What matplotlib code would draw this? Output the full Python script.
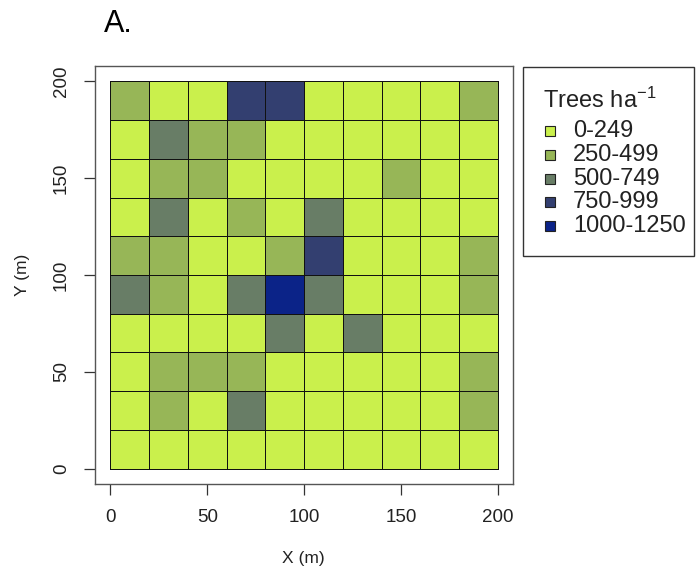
"""
Stem density map of the 200 x 200 m plot, 20 m subplots coloured by class.
"""

import matplotlib
import matplotlib.pyplot as plt
import numpy as np
from matplotlib.colors import BoundaryNorm, ListedColormap
from matplotlib.patches import Rectangle

matplotlib.rcParams["font.family"] = ["Liberation Sans", "DejaVu Sans"]
matplotlib.rcParams["mathtext.default"] = "regular"

# Density classes (trees per ha) and their fill colours
CLASS_LABELS = ["0-249", "250-499", "500-749", "750-999", "1000-1250"]
CLASS_COLORS = ["#CAF04C", "#97B657", "#687D66", "#333F70", "#0B2388"]

# Subplot class index, rows listed from north (y = 180-200) to south (y = 0-20)
SUBPLOT_CLASS = [
    [1, 0, 0, 3, 3, 0, 0, 0, 0, 1],
    [0, 2, 1, 1, 0, 0, 0, 0, 0, 0],
    [0, 1, 1, 0, 0, 0, 0, 1, 0, 0],
    [0, 2, 0, 1, 0, 2, 0, 0, 0, 0],
    [1, 1, 0, 0, 1, 3, 0, 0, 0, 1],
    [2, 1, 0, 2, 4, 2, 0, 0, 0, 1],
    [0, 0, 0, 0, 2, 0, 2, 0, 0, 0],
    [0, 1, 1, 1, 0, 0, 0, 0, 0, 1],
    [0, 1, 0, 2, 0, 0, 0, 0, 0, 1],
    [0, 0, 0, 0, 0, 0, 0, 0, 0, 0],
]

CELL_SIZE = 20  # m
AXIS_TICKS = [0, 50, 100, 150, 200]

grid = np.array(SUBPLOT_CLASS)[::-1]
edges = np.arange(grid.shape[1] + 1) * CELL_SIZE

fig = plt.figure(figsize=(6.97, 5.77), dpi=100)
ax = fig.add_axes([0.1363, 0.1612, 0.6, 0.7244])

cmap = ListedColormap(CLASS_COLORS)
norm = BoundaryNorm(np.arange(len(CLASS_COLORS) + 1) - 0.5, cmap.N)
ax.pcolormesh(edges, edges, grid, cmap=cmap, norm=norm,
              edgecolors="#111111", linewidth=0.65)

ax.set_xlim(-8, 208)
ax.set_ylim(-8, 208)
ax.set_xticks(AXIS_TICKS)
ax.set_yticks(AXIS_TICKS)
ax.tick_params(direction="out", length=8, width=0.9, color="#333333",
               labelsize=13.5, labelcolor="#222222", pad=10)
for lab in ax.get_yticklabels():
    lab.set_rotation(90)
    lab.set_va("center")
for sp in ax.spines.values():
    sp.set_color("#555555")
    sp.set_linewidth(1.0)

fig.text(303 / 697, 1 - 558 / 577, "X (m)", ha="center", va="center",
         fontsize=12.5, color="#222222")
fig.text(22 / 697, 1 - 275 / 577, "Y (m)", ha="center", va="center",
         fontsize=12.5, rotation=90, color="#222222")
fig.text(104 / 697, 1 - 32 / 577, "A.", ha="left", va="baseline",
         fontsize=22, color="black")

# Legend panel to the right of the map
W, H = 697, 577
fig.patches.append(Rectangle((523 / W, 1 - 256 / H), 171 / W, 189 / H,
                             transform=fig.transFigure, fill=False,
                             edgecolor="#333333", linewidth=1.0))
fig.text(543 / W, 1 - 108 / H, r"Trees ha$^{-1}$", ha="left", va="baseline",
         fontsize=17, color="#222222")
for i, (label, color) in enumerate(zip(CLASS_LABELS, CLASS_COLORS)):
    base = 137 + 23.8 * i
    fig.patches.append(Rectangle((545 / W, 1 - (base - 1) / H), 10 / W, 10 / H,
                                 transform=fig.transFigure, facecolor=color,
                                 edgecolor="#222222", linewidth=0.8))
    fig.text(573 / W, 1 - base / H, label, ha="left", va="baseline",
             fontsize=17, color="#222222")

fig.savefig("out.png", dpi=100)
